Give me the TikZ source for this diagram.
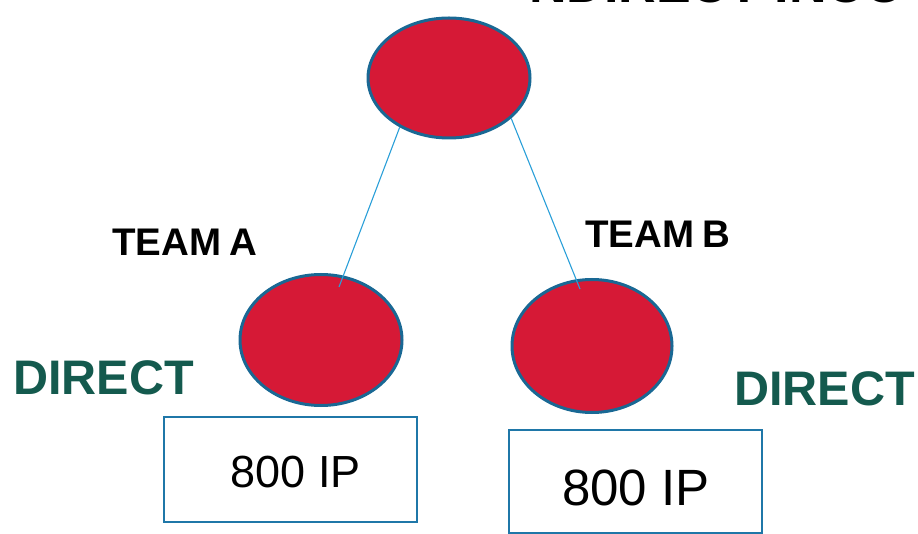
\documentclass[tikz,border=0pt]{standalone}
\usepackage{fontspec}
\setmainfont{Liberation Sans}
\usetikzlibrary{shapes.geometric}
\definecolor{redfill}{RGB}{214,25,54}
\definecolor{ringblue}{RGB}{25,104,148}
\definecolor{linkblue}{RGB}{42,159,216}
\definecolor{boxblue}{RGB}{31,119,168}
\definecolor{teal}{RGB}{20,90,78}
\tikzset{
  member/.style={ellipse, draw=ringblue, fill=redfill, line width=3pt, inner sep=0pt},
  link/.style={draw=linkblue, line width=1.1pt},
  ipbox/.style={draw=boxblue, line width=2.2pt, minimum width=253pt, inner sep=0pt},
  teamlabel/.style={font=\bfseries\fontsize{38.5}{38.5}\selectfont, inner sep=0pt},
  directlabel/.style={font=\bfseries\fontsize{48.5}{48.5}\selectfont, text=teal, inner sep=0pt},
}
\begin{document}
\begin{tikzpicture}[x=1pt,y=-1pt]
\useasboundingbox (0,0) rectangle (918,534);
% top partial title
\node[anchor=base west, inner sep=0pt, font=\bfseries\fontsize{52}{52}\selectfont] (title) at (529,2.5) {NDIRECT INCO};
% ellipses
\node[member, minimum width=162pt, minimum height=120pt] (top) at (449,78) {};
\node[member, minimum width=162pt, minimum height=131pt] (left) at (321,340) {};
\node[member, minimum width=160pt, minimum height=133pt] (right) at (592,346) {};
% connector ends
\coordinate (la) at (339,287);
\coordinate (rb) at (580,289);
\draw[link] (top.225) -- (la);
\draw[link] (top.-33) -- (rb);
% labels
\node[teamlabel, anchor=base west] (teamA) at (112,256) {TEAM\hspace{-2.5pt} A};
\node[teamlabel, anchor=base west] (teamB) at (585,248) {TEAM\hspace{-2.5pt} B};
\node[directlabel, anchor=base west] (dirA) at (13,394) {DIRECT};
\node[directlabel, anchor=base west] (dirB) at (734,405) {DIRECT};
% boxes
\node[ipbox, minimum height=105pt] (boxA) at (290.5,469.5) {};
\node[ipbox, minimum height=103pt] (boxB) at (635.5,481.5) {};
\node[anchor=base, inner sep=0pt, font=\fontsize{45}{45}\selectfont] (ipA) at (296,487) {800 IP};
\node[anchor=base, inner sep=0pt, font=\fontsize{51}{51}\selectfont] (ipB) at (636,505) {800 IP};
\end{tikzpicture}
\end{document}
